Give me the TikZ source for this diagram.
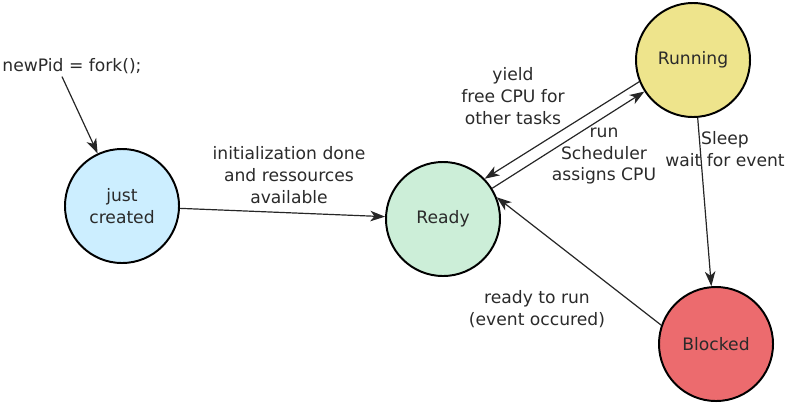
\documentclass[tikz,border=0pt]{standalone}
\usepackage{fontspec}
\setmainfont{DejaVu Sans}
\usepackage{xcolor}
\usetikzlibrary{arrows.meta,positioning,calc}

\definecolor{createdblue}{HTML}{CCEEFF}
\definecolor{readygreen}{HTML}{CCEED8}
\definecolor{runyellow}{HTML}{EEE48C}
\definecolor{blockedred}{HTML}{EC6B6E}
\definecolor{textgray}{HTML}{2A2A2A}

\begin{document}
\begin{tikzpicture}[x=0.025cm,y=-0.025cm,
    every node/.style={font=\fontsize{12.2}{15.6}\selectfont,text=textgray},
    state/.style={circle,draw=black,line width=1.4pt,minimum size=2.85cm,inner sep=0pt,align=center},
    trans/.style={-{Stealth[length=10.5pt,width=7.5pt,inset=3pt]},line width=0.85pt,draw=black!85},
    lbl/.style={align=center}]
    \useasboundingbox (0,0) rectangle (786,403);

    % States
    \node[state,fill=createdblue] (created) at (122,206) {just\\created};
    \node[state,fill=readygreen] (ready) at (443,219) {Ready};
    \node[state,fill=runyellow] (running) at (693,60) {Running};
    \node[state,fill=blockedred] (blocked) at (716,344) {Blocked};

    % Process creation
    \node (fork) at (72,66) {newPid = fork();};
    \draw[trans] ([xshift=-10*0.025cm,yshift=2*0.025cm]fork.south) -- (created);

    % Transitions
    \draw[trans] (created) -- (ready);
    \draw[trans] (running.202) -- (ready.44);
    \draw[trans] (ready.32) -- (running.213);
    \draw[trans] (running) -- (blocked);
    \draw[trans] (blocked.161) -- (ready.22);

    % Transition labels
    \node[lbl] (initlbl) at (289,175) {initialization done\\and ressources\\available};
    \node[lbl] (yieldlbl) at (513,96) {yield\\free CPU for\\other tasks};
    \node[lbl] (runlbl) at (604,156) {run\\Scheduler\\assigns CPU};
    \node[lbl] (sleeplbl) at (725,149) {Sleep\\wait for event};
    \node[lbl] (wakelbl) at (537,309) {ready to run\\(event occured)};

\end{tikzpicture}
\end{document}
